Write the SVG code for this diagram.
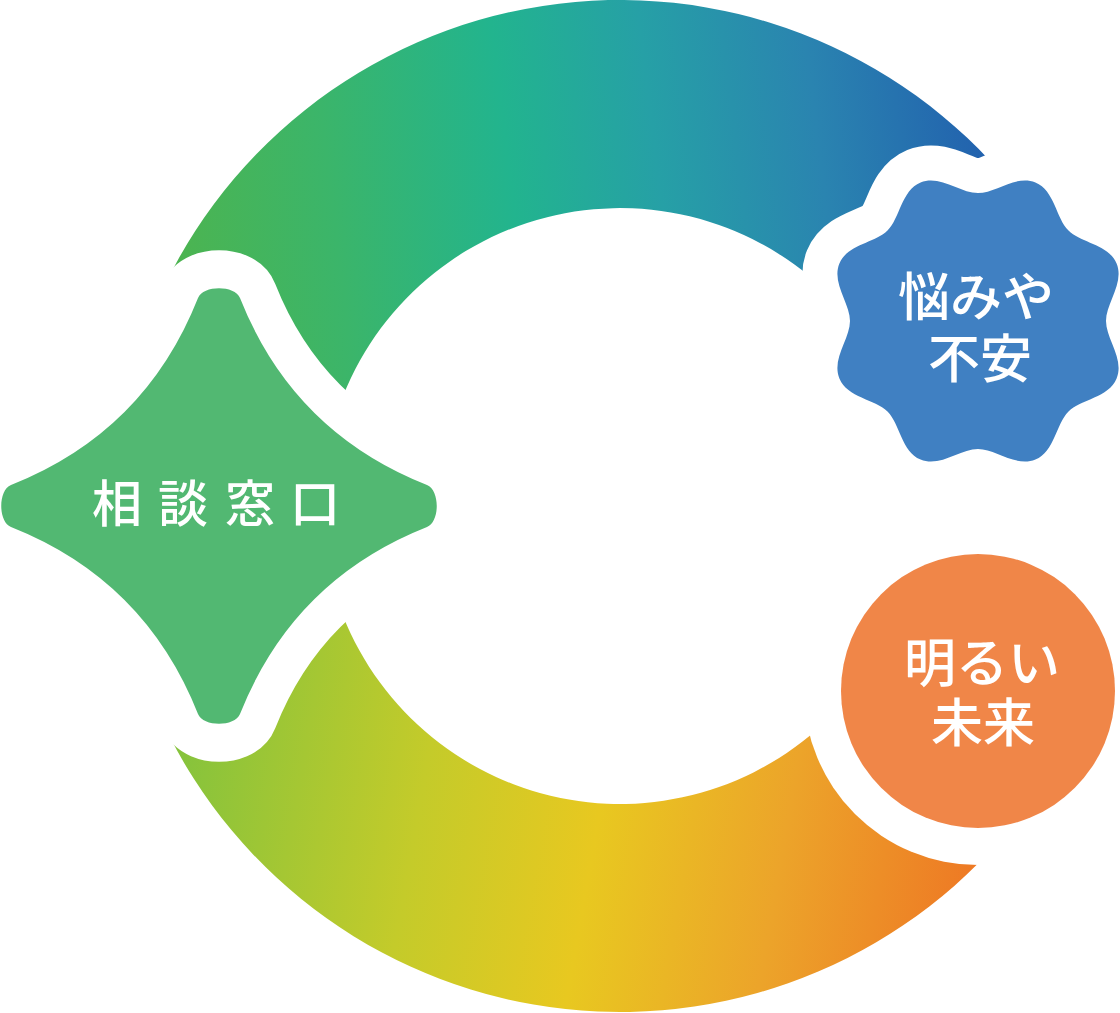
<svg xmlns="http://www.w3.org/2000/svg" width="1120" height="1013" viewBox="0 0 1120 1013">
  <style>
    .halo { fill: #ffffff; stroke: #ffffff; stroke-linejoin: round; }
    .label { fill: #ffffff; font-family: "Noto Sans CJK JP", "Noto Sans", sans-serif; font-weight: 500; }
  </style>
  <defs>
    <linearGradient id="gTop" gradientUnits="userSpaceOnUse" x1="180" y1="300" x2="990" y2="200">
      <stop offset="0" stop-color="#4cb450"/>
      <stop offset="0.2" stop-color="#3bb56a"/>
      <stop offset="0.42" stop-color="#22b48e"/>
      <stop offset="0.6" stop-color="#26a0a6"/>
      <stop offset="0.8" stop-color="#2a84b0"/>
      <stop offset="1" stop-color="#2262ae"/>
    </linearGradient>
    <linearGradient id="gBottom" gradientUnits="userSpaceOnUse" x1="180" y1="760" x2="980" y2="900">
      <stop offset="0" stop-color="#86c33c"/>
      <stop offset="0.3" stop-color="#c4cb2a"/>
      <stop offset="0.52" stop-color="#e8c820"/>
      <stop offset="0.75" stop-color="#eca42a"/>
      <stop offset="1" stop-color="#ee7724"/>
    </linearGradient>
    <path id="starShape" d="M198,298 C203.2,285 234.8,285 240,298 Q293,432 427,485 C440,490.2 440,521.8 427,527 Q293,580 240,714 C234.8,727 203.2,727 198,714 Q145,580 11,527 C-2,521.8 -2,490.2 11,485 Q145,432 198,298 Z"/>
    <path id="badgeShape" d="M1106,321 C1106,339 1124.6,359 1116.6,378.4 C1108.6,397.8 1081.2,398.8 1068.5,411.5 C1055.8,424.2 1054.8,451.6 1035.4,459.6 C1016,467.6 996,449 978,449 C960,449 940,467.6 920.6,459.6 C901.2,451.6 900.2,424.2 887.5,411.5 C874.8,398.8 847.4,397.8 839.4,378.4 C831.4,359 850,339 850,321 C850,303 831.4,283 839.4,263.6 C847.4,244.2 874.8,243.2 887.5,230.5 C900.2,217.8 901.2,190.4 920.6,182.4 C940,174.4 960,193 978,193 C996,193 1016,174.4 1035.4,182.4 C1054.8,190.4 1055.8,217.8 1068.5,230.5 C1081.2,243.2 1108.6,244.2 1116.6,263.6 C1124.6,283 1106,303 1106,321 Z"/>
  </defs>

  <g id="connectors">
    <path id="arc-top" fill="url(#gTop)" d="M138.8,349.6 A506,506 0 0 1 990.1,160.9 L837.9,302.8 A298,298 0 0 0 336.6,413.9 Z"/>
    <path id="arc-bottom" fill="url(#gBottom)" d="M977.8,863.8 A506,506 0 0 1 138.8,662.4 L336.6,598.1 A298,298 0 0 0 830.7,716.7 Z"/>
  </g>

  <g id="node-consult">
    <use href="#starShape" class="halo" stroke-width="76"/>
    <use href="#starShape" fill="#52b872"/>
    <text class="label" font-size="50" y="522"><tspan x="92">相</tspan><tspan x="158">談</tspan><tspan x="225">窓</tspan><tspan x="290">口</tspan></text>
  </g>

  <g id="node-worry">
    <use href="#badgeShape" class="halo" stroke-width="70"/>
    <use href="#badgeShape" fill="#4080c2"/>
    <text class="label" font-size="52" text-anchor="middle" x="976" y="316">悩みや</text>
    <text class="label" font-size="52" text-anchor="middle" x="980" y="378">不安</text>
  </g>

  <g id="node-future">
    <circle class="halo" cx="978" cy="691" r="174" stroke-width="0"/>
    <circle cx="978" cy="691" r="137" fill="#f08648"/>
    <text class="label" font-size="52" text-anchor="middle" x="982" y="682">明るい</text>
    <text class="label" font-size="52" text-anchor="middle" x="983" y="742">未来</text>
  </g>
</svg>
